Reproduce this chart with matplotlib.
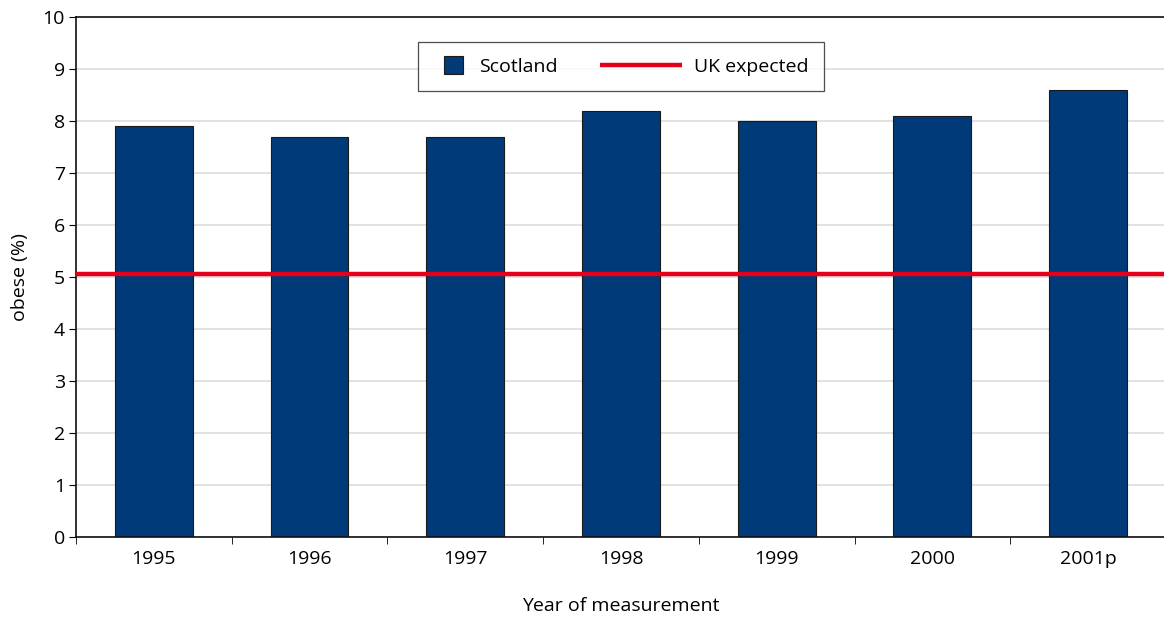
import matplotlib
matplotlib.use("Agg")
import matplotlib.pyplot as plt
import numpy as np
from matplotlib.lines import Line2D
from matplotlib.patches import Patch, Rectangle
from matplotlib.legend_handler import HandlerBase

years = ["1995", "1996", "1997", "1998", "1999", "2000", "2001p"]
scotland = [7.9, 7.7, 7.7, 8.2, 8.0, 8.1, 8.6]
uk_expected = 5.05

BLUE = "#003a78"
RED = "#e2001a"

plt.rcParams['font.family'] = ['Open Sans', 'DejaVu Sans']
plt.rcParams['font.size'] = 14


# square legend key, pushed a bit to the right inside its slot
class SquareHandler(HandlerBase):
    def create_artists(self, legend, orig_handle, xdescent, ydescent,
                       width, height, fontsize, trans):
        s = 0.95 * fontsize
        r = Rectangle((-xdescent + 0.55 * fontsize, -ydescent + height / 2 - s / 2), s, s,
                      facecolor=BLUE, edgecolor="#1a1a1a", linewidth=0.8, transform=trans)
        return [r]


# long line key that reaches back to the left of its slot
class LongLineHandler(HandlerBase):
    def create_artists(self, legend, orig_handle, xdescent, ydescent,
                       width, height, fontsize, trans):
        y = -ydescent + height / 2
        ln = Line2D([-xdescent - 2.5 * fontsize, width - xdescent], [y, y],
                    color=RED, linewidth=3.2, solid_capstyle='butt', transform=trans)
        return [ln]


fig = plt.figure(figsize=(11.64, 6.17), dpi=100)
ax = fig.add_axes([76 / 1164, 80 / 617, 1090 / 1164, 520 / 617])

x = np.arange(len(years))
ax.bar(x, scotland, width=0.5, color=BLUE, edgecolor="#1a1a1a", linewidth=0.8, zorder=2)
ax.axhline(uk_expected, color=RED, linewidth=3.2, zorder=3)

ax.set_xlim(-0.5, len(years) - 0.5)
ax.set_ylim(0, 10)
ax.set_yticks(range(0, 11))
ax.set_xticks(x)
ax.set_xticklabels(years)
ax.set_xticks(np.arange(-0.5, len(years), 1.0), minor=True)
ax.tick_params(axis='x', which='major', length=0, pad=9)
ax.tick_params(axis='x', which='minor', length=5, direction='out')
ax.tick_params(axis='y', length=5, direction='out', pad=3)

ax.grid(axis='y', color="#dddddd", linewidth=1.2, zorder=0)
ax.set_axisbelow(True)
ax.spines['right'].set_visible(False)
for s in ['left', 'bottom', 'top']:
    ax.spines[s].set_linewidth(1.2)
    ax.spines[s].set_color("#111111")

ax.set_xlabel("Year of measurement", labelpad=21)
ax.set_ylabel("obese (%)", labelpad=10)

h_scot = Patch(facecolor=BLUE)
h_uk = Line2D([0], [0], color=RED)
leg = ax.legend([h_scot, h_uk], ["Scotland", "UK expected"], loc="upper center",
                bbox_to_anchor=(0.5, 0.97), ncol=2, frameon=True, fancybox=False,
                edgecolor="#222222", handlelength=1.7, columnspacing=4.7,
                borderpad=0.8, handletextpad=0.62,
                handler_map={h_scot: SquareHandler(), h_uk: LongLineHandler()})
leg.get_frame().set_linewidth(0.9)
leg.set_zorder(5)

fig.savefig("out.png", dpi=100)
